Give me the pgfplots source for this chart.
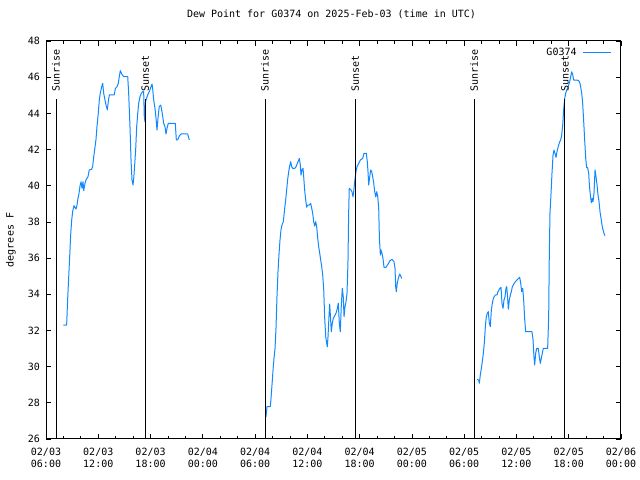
\documentclass[border=0pt]{standalone}
\usepackage{fontspec}
\setmainfont{DejaVu Sans Mono}
\usepackage{pgfplots}
\pgfplotsset{compat=1.18}
\definecolor{dpblue}{RGB}{17,136,255}
\newcommand{\gfont}{\fontsize{10bp}{12bp}\selectfont}
\begin{document}
\begin{tikzpicture}[font=\gfont]
\path[use as bounding box] (0,0) rectangle (640bp,480bp);
\begin{axis}[
  at={(46bp,41bp)}, anchor=south west,
  scale only axis, width=575bp, height=398bp,
  xmin=6, xmax=72, ymin=26, ymax=48,
  xtick={6,12,...,72},
  xticklabels={02/03\\06:00,02/03\\12:00,02/03\\18:00,02/04\\00:00,02/04\\06:00,02/04\\12:00,02/04\\18:00,02/05\\00:00,02/05\\06:00,02/05\\12:00,02/05\\18:00,02/06\\00:00},
  minor x tick num=2,
  ytick={26,28,...,48},
  /pgf/number format/assume math mode=true,
  tick label style={font=\gfont},
  xticklabel style={align=center, yshift=-6bp},
  yticklabel style={xshift=-2.5bp},
  major tick length=5bp, minor tick length=3bp,
  tick style={black, line width=0.8bp},
  axis line style={black, line width=1bp},
  title={Dew Point for G0374 on 2025-Feb-03 (time in UTC)},
  title style={at={(axis description cs:0.5,1)}, anchor=base, yshift=17.5bp, xshift=-2bp, font=\gfont},
  ylabel={degrees F},
  ylabel style={at={(axis description cs:-0.061,0.5)}, anchor=center, font=\gfont},
  legend plot pos=right,
  legend cell align=right,
  legend image code/.code={\draw[#1] (0bp,0bp) -- (28bp,0bp);},
  legend style={draw=none, fill=none, at={(axis description cs:0.984,0.988)}, anchor=north east, font=\gfont, inner sep=0pt, nodes={inner sep=2bp}, column sep=4bp},
]
\addplot[dpblue, line width=1bp, line join=round] coordinates {
(7.99,32.30) (8.37,32.30) (8.49,33.78) (8.60,34.88) (8.72,36.08) (8.83,37.28) (8.95,38.10) (9.06,38.57) (9.21,38.90) (9.44,38.71) (9.56,38.93) (9.67,39.30) (9.79,39.58) (9.90,39.98) (10.02,40.22) (10.13,39.86) (10.25,40.22) (10.33,39.73) (10.48,40.13) (10.59,40.32) (10.82,40.50) (10.97,40.87) (11.25,40.91) (11.36,41.09) (11.48,41.60) (11.59,42.01) (11.74,42.57) (11.85,43.26) (12.00,44.00) (12.12,44.74) (12.23,45.11) (12.39,45.47) (12.51,45.66) (12.62,45.11) (12.77,44.74) (12.89,44.46) (13.04,44.19) (13.15,44.65) (13.27,45.02) (13.84,45.02) (13.96,45.38) (14.15,45.47) (14.30,45.66) (14.41,46.03) (14.53,46.36) (14.69,46.18) (14.92,46.03) (15.38,46.03) (15.49,45.11) (15.64,43.26) (15.76,41.42) (15.87,40.32) (15.99,40.04) (16.07,40.41) (16.18,41.15) (16.30,42.07) (16.41,43.26) (16.53,44.00) (16.64,44.56) (16.79,44.92) (16.94,45.11) (17.10,45.20) (17.21,45.20) (17.28,43.82) (17.36,43.54) (17.40,44.56) (17.48,44.74) (17.67,45.02) (17.86,45.20) (18.05,45.47) (18.17,45.62) (18.24,45.38) (18.36,44.74) (18.51,44.28) (18.63,43.73) (18.74,43.08) (18.89,43.91) (19.00,44.37) (19.17,44.46) (19.28,44.19) (19.40,43.82) (19.51,43.45) (19.66,43.26) (19.77,42.86) (19.89,43.17) (20.04,43.45) (20.84,43.45) (20.96,42.53) (21.11,42.53) (21.30,42.75) (21.50,42.86) (22.26,42.86) (22.45,42.53)
};
\addlegendentry{G0374}
\addplot[dpblue, line width=1bp, line join=round, forget plot] coordinates {
(31.25,27.23) (31.37,27.79) (31.75,27.79) (31.83,28.25) (31.94,28.98) (32.06,29.81) (32.17,30.46) (32.29,31.01) (32.40,32.12) (32.52,33.96) (32.63,35.25) (32.75,36.26) (32.86,37.00) (32.97,37.55) (33.09,37.83) (33.24,38.01) (33.40,38.75) (33.51,39.21) (33.63,39.80) (33.74,40.35) (33.86,40.78) (33.97,41.09) (34.09,41.33) (34.20,41.05) (34.32,40.96) (34.55,40.96) (34.70,41.05) (34.85,41.24) (35.01,41.42) (35.08,41.51) (35.19,41.15) (35.27,40.59) (35.38,40.87) (35.50,40.96) (35.58,40.50) (35.69,39.76) (35.81,39.21) (35.92,38.81) (36.04,38.93) (36.23,38.93) (36.38,39.03) (36.50,38.75) (36.61,38.48) (36.73,38.01) (36.84,37.77) (36.96,38.01) (37.07,37.74) (37.19,37.09) (37.30,36.63) (37.42,36.26) (37.53,35.89) (37.65,35.52) (37.76,35.06) (37.88,34.24) (37.99,32.67) (38.11,31.65) (38.22,31.29) (38.29,31.10) (38.37,31.65) (38.48,32.76) (38.56,33.46) (38.63,32.95) (38.75,31.93) (38.86,32.39) (38.98,32.67) (39.09,32.76) (39.29,32.95) (39.44,33.22) (39.55,33.50) (39.67,32.39) (39.78,31.93) (39.89,33.31) (40.01,34.33) (40.12,33.87) (40.21,32.76) (40.32,33.31) (40.44,33.59) (40.55,34.05) (40.66,35.71) (40.74,38.48) (40.81,39.86) (41.01,39.76) (41.12,39.67) (41.24,39.39) (41.32,39.67) (41.43,40.22) (41.58,40.78) (41.70,41.05) (41.89,41.24) (42.08,41.42) (42.35,41.51) (42.50,41.79) (42.77,41.79) (42.88,41.33) (42.96,40.78) (43.04,40.04) (43.16,40.50) (43.27,40.87) (43.39,40.78) (43.50,40.50) (43.62,40.13) (43.73,39.67) (43.85,39.39) (43.96,39.67) (44.08,39.39) (44.19,38.75) (44.27,37.09) (44.38,36.17) (44.45,36.45) (44.57,36.26) (44.68,35.98) (44.80,35.49) (45.03,35.49) (45.26,35.67) (45.49,35.86) (45.72,35.93) (45.94,35.80) (46.06,35.44) (46.14,34.42) (46.21,34.14) (46.32,34.61) (46.44,34.88) (46.60,35.12) (46.72,35.01) (46.83,34.88)
};
\addplot[dpblue, line width=1bp, line join=round, forget plot] coordinates {
(55.51,29.30) (55.66,29.26) (55.74,29.08) (55.85,29.54) (55.97,29.91) (56.08,30.27) (56.20,30.74) (56.31,31.29) (56.43,32.21) (56.54,32.76) (56.66,32.95) (56.77,33.04) (56.89,32.39) (57.00,32.21) (57.12,33.13) (57.23,33.50) (57.35,33.78) (57.46,33.87) (57.58,33.96) (57.77,33.96) (57.88,34.14) (58.00,34.24) (58.11,34.33) (58.23,34.38) (58.34,33.50) (58.46,33.22) (58.57,33.68) (58.69,33.87) (58.80,34.33) (58.88,34.42) (58.95,34.05) (59.07,33.17) (59.18,33.68) (59.30,33.96) (59.41,34.14) (59.53,34.42) (59.64,34.51) (59.79,34.64) (59.98,34.75) (60.14,34.83) (60.26,34.88) (60.37,34.94) (60.49,34.61) (60.60,34.14) (60.72,34.33) (60.83,33.68) (60.95,32.58) (61.06,31.93) (61.78,31.93) (61.90,31.51) (62.01,30.55) (62.09,30.09) (62.21,30.74) (62.32,31.01) (62.51,31.01) (62.62,30.55) (62.74,30.18) (62.85,30.46) (62.97,30.74) (63.08,31.01) (63.58,31.01) (63.70,32.76) (63.77,36.17) (63.85,38.48) (63.97,39.58) (64.08,40.69) (64.20,41.70) (64.31,41.97) (64.43,41.79) (64.54,41.57) (64.69,41.97) (64.85,42.25) (64.97,42.43) (65.08,42.53) (65.19,42.80) (65.31,43.36) (65.42,44.22) (65.54,44.83) (65.65,45.11) (65.77,45.29) (65.88,45.38) (66.00,45.57) (66.11,45.75) (66.23,46.03) (66.34,46.30) (66.46,46.12) (66.57,45.84) (66.95,45.84) (67.14,45.81) (67.29,45.66) (67.37,45.47) (67.49,45.11) (67.60,44.56) (67.72,43.54) (67.83,42.53) (67.95,41.51) (68.06,41.00) (68.17,41.00) (68.29,40.69) (68.37,40.04) (68.48,39.49) (68.60,39.06) (68.71,39.30) (68.79,39.12) (68.90,39.58) (69.02,40.87) (69.13,40.50) (69.25,40.04) (69.36,39.49) (69.48,39.12) (69.59,38.57) (69.71,38.20) (69.82,37.83) (69.94,37.55) (70.05,37.37) (70.16,37.24)
};
% sunrise / sunset markers
\addplot[black, line width=1bp, forget plot] coordinates {(7.15,26) (7.15,44.8)};
\addplot[black, line width=1bp, forget plot] coordinates {(17.40,26) (17.40,44.8)};
\addplot[black, line width=1bp, forget plot] coordinates {(31.14,26) (31.14,44.8)};
\addplot[black, line width=1bp, forget plot] coordinates {(41.50,26) (41.50,44.8)};
\addplot[black, line width=1bp, forget plot] coordinates {(55.13,26) (55.13,44.8)};
\addplot[black, line width=1bp, forget plot] coordinates {(65.57,26) (65.57,44.8)};
\node[rotate=90, anchor=west, inner sep=0pt] at (axis cs:7.15,45.18) {Sunrise};
\node[rotate=90, anchor=west, inner sep=0pt] at (axis cs:17.40,45.18) {Sunset};
\node[rotate=90, anchor=west, inner sep=0pt] at (axis cs:31.14,45.18) {Sunrise};
\node[rotate=90, anchor=west, inner sep=0pt] at (axis cs:41.50,45.18) {Sunset};
\node[rotate=90, anchor=west, inner sep=0pt] at (axis cs:55.13,45.18) {Sunrise};
\node[rotate=90, anchor=west, inner sep=0pt] at (axis cs:65.57,45.18) {Sunset};
\end{axis}
\end{tikzpicture}
\end{document}
